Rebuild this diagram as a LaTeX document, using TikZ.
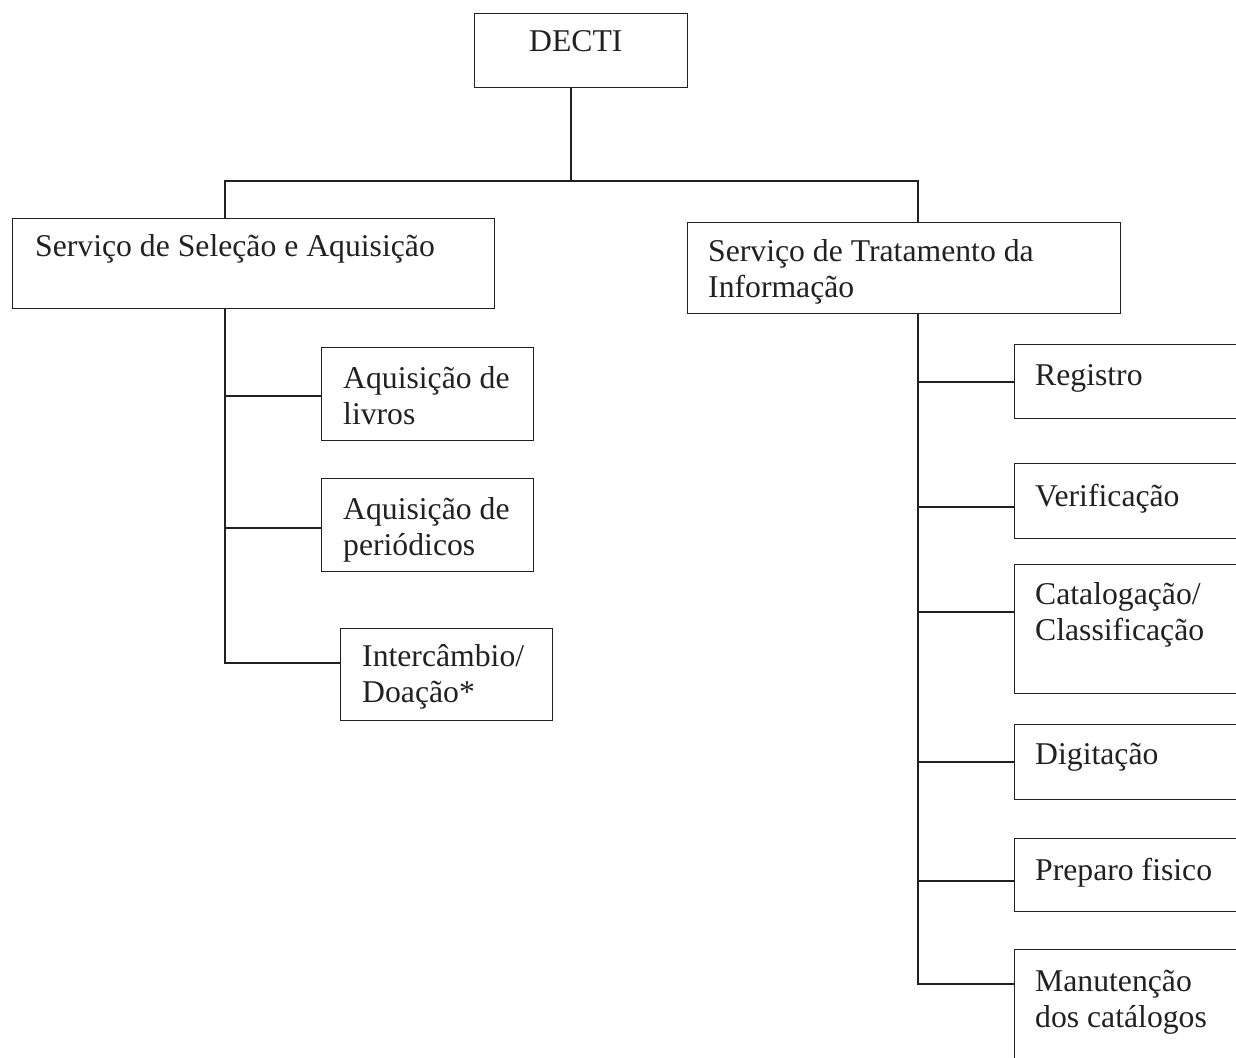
\documentclass[tikz,border=0pt]{standalone}
\usepackage{fontspec}
\setmainfont{Liberation Serif}
\definecolor{ink}{gray}{0.13}
\newcommand\twol[2]{\vtop{\hbox{#1}\hbox{#2}}}
\begin{document}
\begin{tikzpicture}[x=1pt,y=-1pt,
  box/.style={draw=ink, line width=1.4pt, rectangle, inner sep=0pt, anchor=north west},
  lbl/.style={anchor=base west, inner sep=0pt, text=ink, font=\fontsize{31.7}{36}\selectfont},
  link/.style={draw=ink, line width=1.4pt}]
\useasboundingbox (0,0) rectangle (1236,1057);
\clip (0,0) rectangle (1236,1057);
% boxes
\node[box, minimum width=213, minimum height=74] (decti) at (474,13) {};
\node[box, minimum width=482, minimum height=90] (ssa) at (12,218) {};
\node[box, minimum width=433, minimum height=91] (sti) at (687,222) {};
\node[box, minimum width=212, minimum height=93] (c1) at (321,347) {};
\node[box, minimum width=212, minimum height=93] (c2) at (321,478) {};
\node[box, minimum width=212, minimum height=92] (c3) at (340,628) {};
\node[box, minimum width=260, minimum height=74] (r1) at (1014,344) {};
\node[box, minimum width=260, minimum height=75] (r2) at (1014,463) {};
\node[box, minimum width=260, minimum height=129] (r3) at (1014,564) {};
\node[box, minimum width=260, minimum height=75] (r4) at (1014,724) {};
\node[box, minimum width=260, minimum height=73] (r5) at (1014,838) {};
\node[box, minimum width=260, minimum height=140] (r6) at (1014,949) {};
% texts
\node[lbl] (tdecti) at (529,52) {DECTI};
\node[lbl] (tssa) at (35,256) {Serviço de Seleção e Aquisição};
\node[lbl] (tsti) at (708,261) {\twol{Serviço de Tratamento da}{Informação}};
\node[lbl] (tc1) at (343,388) {\twol{Aquisição de}{livros}};
\node[lbl] (tc2) at (343,519) {\twol{Aquisição de}{periódicos}};
\node[lbl] (tc3) at (362,666) {\twol{Intercâmbio/}{Doação*}};
\node[lbl] (tr1) at (1035,385) {Registro};
\node[lbl] (tr2) at (1035,506) {Verificação};
\node[lbl] (tr3) at (1035,604) {\twol{Catalogação/}{Classificação}};
\node[lbl] (tr4) at (1035,764) {Digitação};
\node[lbl] (tr5) at (1035,880) {Preparo fisico};
\node[lbl] (tr6) at (1035,991) {\twol{Manutenção}{dos catálogos}};
% connectors
\coordinate (j) at (571,181);
\coordinate (lb) at (225,0);
\coordinate (rb) at (918,0);
\draw[link] (decti.south -| j) -- (j);
\draw[link] (ssa.north -| lb) |- (j) -| (sti.north -| rb);
\draw[link] (ssa.south -| lb) |- (c3.west |- 0,663);
\draw[link] (lb |- 0,396) -- (c1.west |- 0,396);
\draw[link] (lb |- 0,528) -- (c2.west |- 0,528);
\draw[link] (sti.south -| rb) |- (r6.west |- 0,984);
\draw[link] (rb |- 0,382) -- (r1.west |- 0,382);
\draw[link] (rb |- 0,507) -- (r2.west |- 0,507);
\draw[link] (rb |- 0,612) -- (r3.west |- 0,612);
\draw[link] (rb |- 0,762) -- (r4.west |- 0,762);
\draw[link] (rb |- 0,881) -- (r5.west |- 0,881);
\end{tikzpicture}
\end{document}
